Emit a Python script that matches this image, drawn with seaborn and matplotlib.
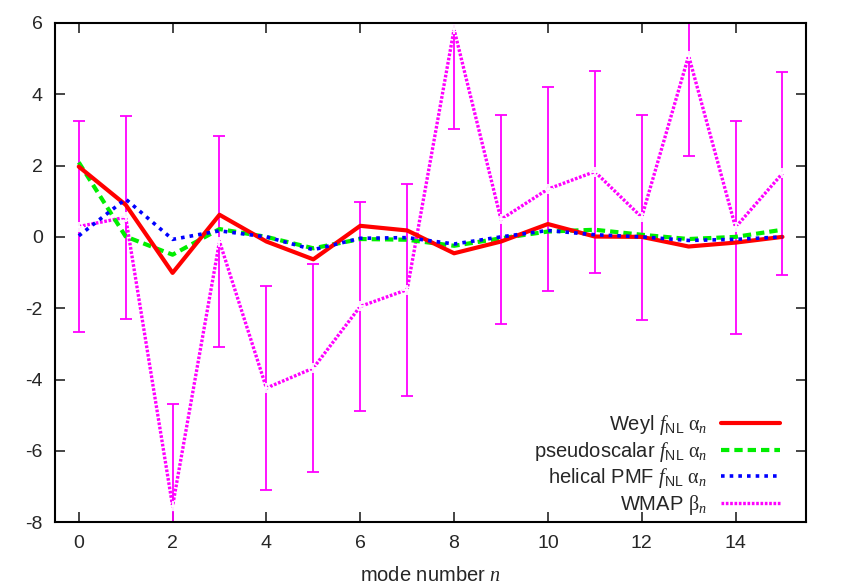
import numpy as np
import pandas as pd
import matplotlib
matplotlib.use("Agg")
import matplotlib.pyplot as plt
import seaborn as sns

# mode numbers
modes = list(range(16))

# values
weyl = [1.97, 0.90, -1.01, 0.62, -0.13, -0.63, 0.31, 0.18,
        -0.46, -0.13, 0.36, 0.01, 0.00, -0.27, -0.16, 0.00]
pseudoscalar = [2.09, 0.01, -0.50, 0.22, 0.00, -0.32, -0.06, -0.08,
                -0.25, -0.04, 0.15, 0.20, 0.06, -0.06, 0.00, 0.20]
helical = [0.03, 1.06, -0.07, 0.17, 0.00, -0.36, -0.04, -0.02,
           -0.20, 0.00, 0.18, 0.06, 0.00, -0.10, -0.07, 0.00]
wmap_beta = [0.29, 0.55, -7.55, -0.13, -4.24, -3.68, -1.95, -1.48,
             5.82, 0.49, 1.34, 1.83, 0.55, 5.08, 0.27, 1.78]
wmap_err = [2.95, 2.85, 2.85, 2.95, 2.87, 2.92, 2.94, 2.97,
            2.80, 2.93, 2.86, 2.83, 2.87, 2.80, 2.98, 2.85]

labels = [r"Weyl $f_{\mathrm{NL}}\ \mathsf{\alpha}_n$",
          r"pseudoscalar $f_{\mathrm{NL}}\ \mathsf{\alpha}_n$",
          r"helical PMF $f_{\mathrm{NL}}\ \mathsf{\alpha}_n$",
          r"WMAP $\mathsf{\beta}_n$"]

sns.set_style("ticks")
plt.rcParams['font.family'] = ['Liberation Sans', 'DejaVu Sans']
plt.rcParams['mathtext.fontset'] = 'custom'
plt.rcParams['mathtext.rm'] = 'Liberation Sans'
plt.rcParams['mathtext.it'] = 'Liberation Serif:italic'
plt.rcParams['mathtext.sf'] = 'Liberation Serif'
plt.rcParams['axes.unicode_minus'] = False
plt.rcParams['font.size'] = 14

fig = plt.figure(figsize=(8.43, 5.88), dpi=100)
ax = fig.add_axes([0.0656, 0.112, 0.8904, 0.849])

# error bars for WMAP first so the lines sit on top
ax.errorbar(modes, wmap_beta, yerr=wmap_err, fmt='none', ecolor='#ff00ff',
            elinewidth=1.3, capsize=4.5, capthick=1.3, zorder=2)

sns.lineplot(x=modes, y=weyl, ax=ax, color='#ff0000', lw=3.0,
             label=labels[0], zorder=5)
sns.lineplot(x=modes, y=pseudoscalar, ax=ax, color='#00ee00', lw=3.0,
             linestyle=(0, (2.0, 1.2)), label=labels[1], zorder=4)
sns.lineplot(x=modes, y=helical, ax=ax, color='#0000ff', lw=2.6,
             linestyle=(0, (1.0, 1.4)), label=labels[2], zorder=6)
sns.lineplot(x=modes, y=wmap_beta, ax=ax, color='#ff00ff', lw=2.4,
             linestyle=(0, (0.8, 0.5)), marker='+', markersize=7,
             markeredgewidth=1.3, label=labels[3], zorder=3)

ax.set_xlim(-0.5, 15.5)
ax.set_ylim(-8, 6)
ax.set_xticks(range(0, 15, 2))
ax.set_yticks(range(-8, 7, 2))
ax.tick_params(direction='in', length=7, width=1.2, top=True, right=True,
               labelsize=14, pad=9)
for s in ax.spines.values():
    s.set_linewidth(1.5)
    s.set_color('black')
ax.set_xlabel("mode number $n$", fontsize=14.5, labelpad=10)

leg = ax.legend(loc='lower right', bbox_to_anchor=(1.0, -0.042),
                frameon=False, markerfirst=False,
                handlelength=2.9, handletextpad=0.7, labelspacing=0.13,
                fontsize=14.5, borderaxespad=0.9)
for line in leg.get_lines():
    line.set_marker('')

fig.savefig("out.png", dpi=100)
